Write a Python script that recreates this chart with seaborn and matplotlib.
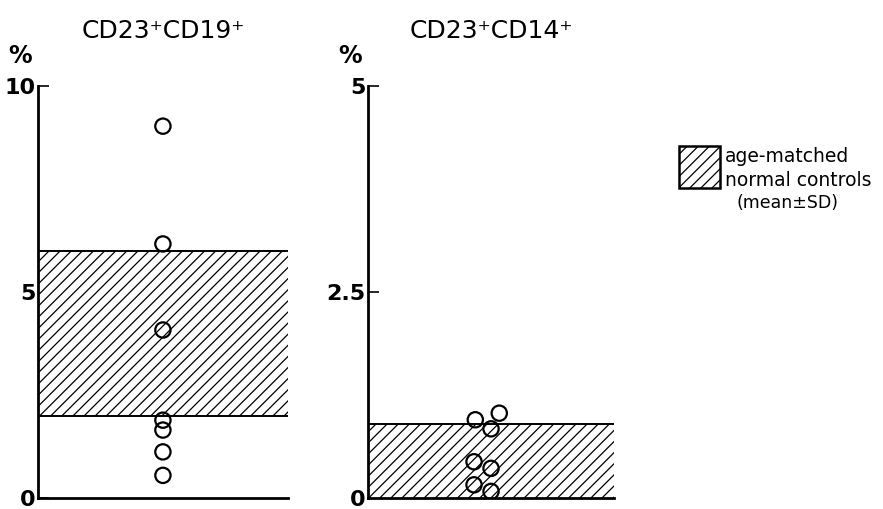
import matplotlib
matplotlib.use("Agg")
import matplotlib.pyplot as plt
import matplotlib.patches as mpatches
import pandas as pd
import seaborn as sns

# values (%)
cd19_values = [9.03, 6.17, 4.08, 1.89, 1.65, 1.12, 0.55]
cd14_values = [1.03, 0.95, 0.84, 0.44, 0.36, 0.16, 0.08]

# age-matched normal controls, mean +- SD band
cd19_band = (2.0, 6.0)
cd14_band = (0.0, 0.9)

titles = ["CD23\u207aCD19\u207a", "CD23\u207aCD14\u207a"]
ylims = [10, 5]
yticks = [[0, 5, 10], [0, 2.5, 5]]
yticklabels = [["0", "5", "10"], ["0", "2.5", "5"]]

sns.set_style("white")
plt.rcParams["font.family"] = ["DejaVu Sans"]
plt.rcParams["text.color"] = "black"
plt.rcParams["hatch.linewidth"] = 0.9

fig = plt.figure(figsize=(8.83, 5.09), dpi=100)
ax1 = fig.add_axes([0.043, 0.0216, 0.283, 0.809])
ax2 = fig.add_axes([0.4168, 0.0216, 0.2786, 0.809])

panels = [(ax1, cd19_values, cd19_band), (ax2, cd14_values, cd14_band)]
for i, (ax, vals, band) in enumerate(panels):
    df = pd.DataFrame({"group": ["patients"] * len(vals), "value": vals})
    ax.axhspan(band[0], band[1], facecolor="white", edgecolor="black",
               hatch="///", linewidth=0, zorder=1)
    ax.axhline(band[1], color="black", linewidth=1.4, zorder=2)
    if band[0] > 0:
        ax.axhline(band[0], color="black", linewidth=1.4, zorder=2)
    if i == 0:
        sns.stripplot(data=df, x="group", y="value", ax=ax, size=11, jitter=False,
                      color="white", edgecolor="black", linewidth=1.6, zorder=3)
    else:
        sns.swarmplot(data=df, x="group", y="value", ax=ax, size=11,
                      color="white", edgecolor="black", linewidth=1.6, zorder=3)
    for coll in ax.collections:
        coll.set_facecolor("none")
    ax.set_xlim(-0.5, 0.5)
    ax.set_ylim(0, ylims[i])
    ax.set_xticks([])
    ax.set_xlabel("")
    ax.set_ylabel("")
    ax.set_yticks(yticks[i])
    ax.set_yticklabels(yticklabels[i], fontsize=16, fontweight="bold", color="black")
    ax.tick_params(axis="y", direction="in", length=8, width=1.4, pad=2,
                   left=True)
    for side in ["top", "right"]:
        ax.spines[side].set_visible(False)
    for side in ["left", "bottom"]:
        ax.spines[side].set_color("black")
        ax.spines[side].set_linewidth(2)
    ax.set_title(titles[i], fontsize=18, pad=35, color="black")
    ax.text(-0.12, 1.045, "%", transform=ax.transAxes, fontsize=17,
            fontweight="bold", ha="left", va="bottom")

# nudge the "0" tick labels up so they are not clipped at the bottom edge
for ax in (ax1, ax2):
    ax.get_yticklabels()[0].set_verticalalignment("center_baseline")

# legend for the hatched band
fig.add_artist(mpatches.Rectangle((679 / 883, 1 - 188 / 509), 41 / 883, 42 / 509,
                                  transform=fig.transFigure, facecolor="white",
                                  edgecolor="black", hatch="///", linewidth=1.8))
fig.text(725 / 883, 1 - 156 / 509, "age-matched", fontsize=13.5, va="center")
fig.text(725 / 883, 1 - 180 / 509, "normal controls", fontsize=13.5, va="center")
fig.text(737 / 883, 1 - 203 / 509, "(mean\u00b1SD)", fontsize=12.5, va="center")

fig.savefig("out.png", dpi=100)
